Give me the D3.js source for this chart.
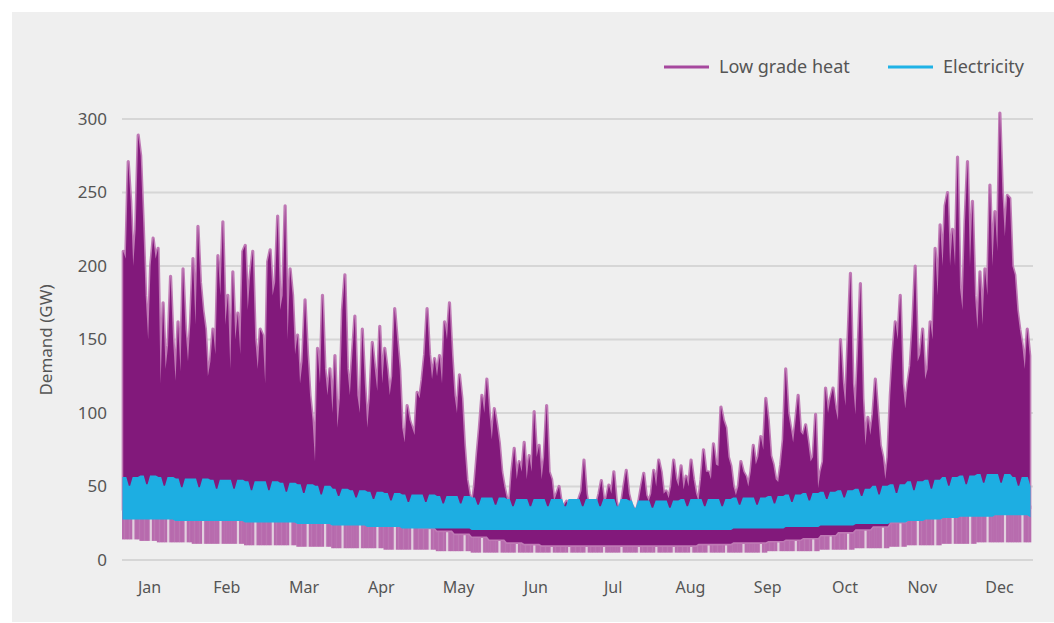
<!DOCTYPE html>
<html>
<head>
<meta charset="utf-8">
<script src="https://cdn.jsdelivr.net/npm/d3@7"></script>
<style>
  body { margin: 0; background: #fff; font-family: "Noto Sans", sans-serif; }
</style>
</head>
<body>
<div id="chart"></div>
<script>
const months = ["Jan", "Feb", "Mar", "Apr", "May", "Jun", "Jul", "Aug", "Sep", "Oct", "Nov", "Dec"];
const yTicks = [0, 50, 100, 150, 200, 250, 300];

// daily peak of low grade heat demand (GW), one value per day
const heatPeak = [
  // Jan
  210,205,271,244,200,225,289,275,230,180,150,200,219,205,212,120,175,130,146,193,150,122,162,128,198,157,135,162,205,160,227,
  // Feb
  189,170,157,125,135,157,140,207,180,230,160,180,130,196,150,168,140,210,214,170,194,210,150,130,157,153,120,203,
  // Mar
  211,180,189,234,170,180,241,150,198,180,140,153,120,135,177,140,112,95,67,144,120,180,130,112,130,100,139,90,110,170,194,
  // Apr
  130,112,140,166,112,100,157,120,90,110,148,130,115,159,120,144,130,112,125,171,150,130,90,80,105,95,90,85,114,110,
  // May
  123,140,171,140,123,137,125,139,120,162,150,175,140,112,100,126,110,78,55,45,37,50,71,90,112,100,123,100,82,103,92,
  // Jun
  80,60,50,42,37,60,76,55,67,60,80,55,71,60,101,70,78,55,70,105,60,55,40,45,50,38,37,40,35,38,
  // Jul
  36,38,42,47,68,45,35,32,30,38,45,54,40,42,51,45,60,40,33,38,50,61,45,38,35,33,40,50,59,44,40,
  // Aug
  45,61,50,68,60,45,47,42,50,68,55,50,64,48,57,50,68,55,45,40,55,75,60,60,55,79,65,64,104,95,90,
  // Sep
  70,64,50,44,50,67,60,57,50,60,78,65,70,84,75,110,95,71,65,55,53,65,82,130,100,90,80,95,112,87,
  // Oct
  85,92,80,67,70,99,49,60,67,117,100,110,117,103,95,150,120,105,150,195,120,99,140,188,110,78,97,85,99,123,100,
  // Nov
  78,70,55,70,112,140,162,150,180,120,103,120,132,160,200,135,140,157,123,130,162,150,212,180,228,200,241,250,200,225,
  // Dec
  200,274,185,170,230,271,200,244,180,157,196,160,198,180,255,200,237,210,304,250,220,248,246,200,194,170,157,146,130,157,139
];

// weekly values (53 blocks of 7 days)
const heatMinWk = [14,13,12,12,11, 11,11,10,10, 10,9,9,8, 8,8,7,7,7, 6,6,5,5, 5,5,5,5, 5,5,5,5,5, 5,5,5,5, 5,5,6,6, 6,7,7,8,8, 9,10,10,11, 11,12,12,12,12];
const heatDenseWk = [34,35,35,34,34, 33,33,32,32, 31,30,30,29, 28,26,25,24,22, 20,18,16,14, 12,11,10,10, 10,10,10,10,10, 10,10,11,11, 12,12,13,14, 15,17,19,21,23, 26,28,30,32, 33,34,35,35,35];
const elecTopWk = [56,57,56,55,55, 54,54,53,53, 52,51,50,48, 47,46,45,44,44, 43,43,42,42, 41,41,41,41, 41,41,41,40,40, 40,41,41,41, 42,42,43,44, 45,46,47,48,50, 51,53,54,56, 57,58,58,56,50];
const elecDipWk = [50,51,50,49,49, 48,48,47,47, 46,45,44,43, 42,41,40,39,39, 38,38,37,37, 36,36,36,36, 36,36,36,35,35, 35,36,36,36, 37,37,38,39, 40,41,42,43,44, 45,47,48,50, 51,52,52,50,46];
const elecBaseWk = [28,28,28,27,27, 27,27,26,26, 26,25,25,24, 24,23,23,22,22, 22,22,21,21, 21,21,21,21, 21,21,21,21,21, 21,21,21,21, 22,22,22,23, 23,24,24,25,25, 26,27,28,29, 30,30,31,31,30];

const weekendDays = [2, 3];   // day positions in each block where electricity dips
const heatGapDay = 4;         // day position where the overnight heat band thins

const W = 1054, H = 623;
const svg = d3.select("#chart").append("svg").attr("width", W).attr("height", H);

svg.append("rect").attr("x", 12).attr("y", 12).attr("width", W - 12).attr("height", H - 13).attr("fill", "#efefef");

const x = d3.scaleLinear().domain([0, 365]).range([122, 1031]);
const y = d3.scaleLinear().domain([0, 300]).range([560, 119]);
const xm = d3.scalePoint().domain(months).range([149, 999]);

// grid
svg.append("g").selectAll("line").data(yTicks).enter().append("line")
  .attr("x1", 122).attr("x2", 1033)
  .attr("y1", d => y(d)).attr("y2", d => y(d))
  .attr("stroke", "#d6d6d6").attr("stroke-width", 2);

const days = heatPeak.map((v, i) => ({
  i, peak: v, w: Math.floor(i / 7), p: i % 7
}));
days.forEach(d => {
  d.elecTop = weekendDays.includes(d.p) ? elecDipWk[d.w] : elecTopWk[d.w];
});

// heat: overnight (light) band
svg.append("g").selectAll("rect").data(days).enter().append("rect")
  .attr("x", d => x(d.i))
  .attr("width", d => x(d.i + 1) - x(d.i) + 0.3)
  .attr("y", d => y(heatDenseWk[d.w] + 2))
  .attr("height", d => y(heatMinWk[d.w]) - y(heatDenseWk[d.w] + 2))
  .attr("fill", "#b464aa")
  .attr("fill-opacity", d => d.p === heatGapDay ? 0.22 : 0.95);

// heat: daily peaks as a spiky area, light fringe then dense core
const heatArea = d3.area()
  .x(d => x(d.i + 0.5))
  .y0(d => y(heatDenseWk[d.w]))
  .y1(d => y(d.peak));

svg.append("path").datum(days)
  .attr("d", heatArea)
  .attr("fill", "#b86cae")
  .attr("stroke", "#bf7ab5").attr("stroke-width", 3.2).attr("stroke-linejoin", "round");

svg.append("path").datum(days)
  .attr("d", heatArea)
  .attr("fill", "#82197b");

// electricity
const elecArea = d3.area()
  .x(d => x(d.i + 0.5))
  .y0(d => y(elecBaseWk[d.w]))
  .y1(d => y(d.elecTop));

svg.append("path").datum(days)
  .attr("d", elecArea)
  .attr("fill", "#1daee2")
  .attr("stroke", "#1daee2").attr("stroke-width", 1.5);

// axes
const yAxis = svg.append("g").attr("transform", "translate(122,0)")
  .call(d3.axisLeft(y).tickValues(yTicks).tickSize(0).tickPadding(15));
yAxis.select(".domain").remove();
yAxis.selectAll("text").attr("font-size", 17).attr("fill", "#555").attr("font-family", "Noto Sans");

const xAxis = svg.append("g").attr("transform", "translate(0,572)")
  .call(d3.axisBottom(xm).tickSize(0).tickPadding(10));
xAxis.select(".domain").remove();
xAxis.selectAll("text").attr("font-size", 16).attr("fill", "#555").attr("font-family", "Noto Sans");

svg.append("text")
  .attr("transform", "translate(52,340) rotate(-90)")
  .attr("text-anchor", "middle")
  .attr("font-size", 17).attr("fill", "#555")
  .text("Demand (GW)");

// legend
const legend = [
  { name: "Low grade heat", color: "#a6489e", x: 664 },
  { name: "Electricity", color: "#1fb2e6", x: 888 }
];
const lg = svg.append("g").selectAll("g").data(legend).enter().append("g")
  .attr("transform", d => `translate(${d.x},67)`);
lg.append("line").attr("x1", 0).attr("x2", 45).attr("stroke", d => d.color).attr("stroke-width", 3);
lg.append("text").attr("x", 55).attr("dy", "0.35em")
  .attr("font-size", 18).attr("fill", "#555")
  .text(d => d.name);
</script>
</body>
</html>
